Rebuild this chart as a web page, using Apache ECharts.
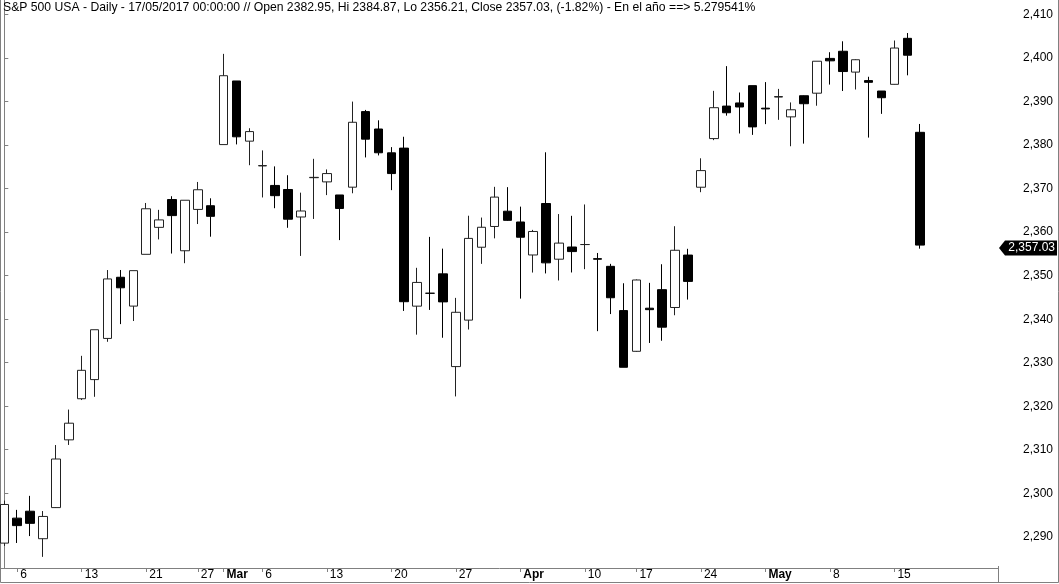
<!DOCTYPE html>
<html><head><meta charset="utf-8">
<script src="https://cdn.jsdelivr.net/npm/echarts@6/dist/echarts.min.js"></script>
<style>html,body{margin:0;padding:0;background:#fff}#c{width:1059px;height:584px}</style>
</head><body><div id="c"></div>
<script>
const dates = ['2017-02-03','2017-02-06','2017-02-07','2017-02-08','2017-02-09','2017-02-10',
'2017-02-13','2017-02-14','2017-02-15','2017-02-16','2017-02-17',
'2017-02-21','2017-02-22','2017-02-23','2017-02-24',
'2017-02-27','2017-02-28','2017-03-01','2017-03-02','2017-03-03',
'2017-03-06','2017-03-07','2017-03-08','2017-03-09','2017-03-10',
'2017-03-13','2017-03-14','2017-03-15','2017-03-16','2017-03-17',
'2017-03-20','2017-03-21','2017-03-22','2017-03-23','2017-03-24',
'2017-03-27','2017-03-28','2017-03-29','2017-03-30','2017-03-31',
'2017-04-03','2017-04-04','2017-04-05','2017-04-06','2017-04-07',
'2017-04-10','2017-04-11','2017-04-12','2017-04-13',
'2017-04-17','2017-04-18','2017-04-19','2017-04-20','2017-04-21',
'2017-04-24','2017-04-25','2017-04-26','2017-04-27','2017-04-28',
'2017-05-01','2017-05-02','2017-05-03','2017-05-04','2017-05-05',
'2017-05-08','2017-05-09','2017-05-10','2017-05-11','2017-05-12',
'2017-05-15','2017-05-16','2017-05-17'];
const open = [2288.54,2294.28,2295.87,2289.55,2296.70,2312.27,
2321.72,2326.12,2335.58,2349.64,2343.01,
2354.91,2361.11,2367.50,2355.73,
2365.23,2366.08,2380.13,2394.75,2380.92,
2375.23,2370.74,2369.81,2363.49,2372.52,
2371.56,2368.55,2370.34,2387.71,2383.71,
2378.24,2379.32,2343.00,2345.97,2350.42,
2329.11,2339.79,2356.54,2361.31,2364.82,
2362.34,2354.76,2366.59,2353.79,2356.59,
2357.16,2353.92,2352.15,2341.98,
2332.62,2342.53,2346.79,2342.69,2354.74,
2370.33,2381.51,2388.98,2389.70,2393.68,
2388.50,2391.05,2386.50,2391.36,2391.94,
2399.94,2401.58,2396.79,2394.84,2392.44,
2393.98,2404.55,2382.95];
const high = [2298.31,2296.18,2299.40,2295.91,2311.08,2319.23,
2331.58,2337.58,2351.30,2351.31,2351.16,
2366.71,2365.13,2368.26,2367.34,
2371.54,2367.79,2400.98,2394.75,2383.89,
2378.80,2375.12,2373.09,2369.08,2376.86,
2374.42,2368.55,2390.01,2388.10,2385.71,
2379.55,2381.93,2351.81,2358.92,2356.22,
2344.90,2363.78,2363.36,2370.42,2370.35,
2365.87,2360.53,2378.36,2364.16,2363.76,
2366.37,2355.22,2352.72,2348.26,
2349.14,2348.35,2352.63,2361.37,2356.18,
2376.98,2392.48,2398.16,2392.10,2393.68,
2394.49,2392.93,2389.82,2391.43,2399.29,
2401.36,2403.87,2399.74,2395.72,2392.44,
2404.05,2405.77,2384.87];
const low = [2287.88,2288.57,2290.16,2285.38,2296.61,2311.10,
2321.42,2322.17,2334.81,2338.87,2339.58,
2354.91,2358.34,2355.09,2352.87,
2361.87,2358.96,2380.13,2380.17,2375.39,
2367.98,2365.51,2361.01,2354.54,2363.04,
2368.52,2358.18,2368.94,2377.18,2377.64,
2369.66,2341.90,2336.45,2342.13,2335.74,
2322.25,2337.63,2352.72,2358.58,2362.60,
2344.73,2350.72,2350.52,2348.90,2350.74,
2351.50,2337.25,2341.18,2328.95,
2332.51,2334.54,2335.05,2340.91,2344.51,
2369.19,2381.15,2386.78,2382.68,2382.36,
2384.83,2385.82,2379.75,2380.35,2389.06,
2393.92,2392.44,2392.79,2381.74,2387.19,
2393.94,2396.05,2356.21];
const close = [2297.42,2292.56,2293.08,2294.67,2307.87,2316.10,
2328.25,2337.58,2349.25,2347.22,2351.16,
2365.38,2362.82,2363.81,2367.34,
2369.75,2363.64,2395.96,2381.92,2383.12,
2375.31,2368.39,2362.98,2364.87,2372.60,
2373.47,2365.45,2385.26,2381.38,2378.25,
2373.47,2344.02,2348.45,2345.96,2343.98,
2341.59,2358.57,2361.13,2368.06,2362.72,
2358.84,2360.16,2352.95,2357.49,2355.54,
2357.16,2353.78,2344.93,2328.95,
2349.01,2342.19,2338.17,2355.84,2348.69,
2374.15,2388.61,2387.45,2388.77,2384.20,
2388.33,2391.17,2388.13,2389.52,2399.29,
2399.38,2396.92,2399.63,2394.44,2390.90,
2402.32,2400.67,2357.03];
const tickDates = ['2017-02-06','2017-02-13','2017-02-21','2017-02-27','2017-03-01','2017-03-06','2017-03-13','2017-03-20','2017-03-27','2017-04-03','2017-04-10','2017-04-17','2017-04-24','2017-05-01','2017-05-08','2017-05-15'];
const tickLabels = ['6','13','21','27','Mar','6','13','20','27','Apr','10','17','24','May','8','15'];
const monthLabels = ['Mar','Apr','May'];
const yTicks = [2290,2300,2310,2320,2330,2340,2350,2360,2370,2380,2390,2400,2410];
const titleText = 'S&P 500 USA - Daily - 17/05/2017 00:00:00 // Open 2382.95, Hi 2384.87, Lo 2356.21, Close 2357.03, (-1.82%) - En el año ==> 5.279541%';

const F = '"Liberation Sans", Arial, sans-serif';
const ohlc = dates.map((d, i) => [i, open[i], close[i], low[i], high[i]]);
const tickIdx = tickDates.map(d => dates.indexOf(d));
const labelOf = {};
tickIdx.forEach((ix, k) => { labelOf[ix] = tickLabels[k]; });

const chart = echarts.init(document.getElementById('c'), null, {renderer: 'canvas'});
chart.setOption({
  animation: false,
  backgroundColor: '#fff',
  title: {text: titleText, left: 3, top: 2, padding: 0,
    textStyle: {fontFamily: F, fontSize: 12.2, fontWeight: 'normal', color: '#000'}},
  grid: {left: 1, right: 61, top: 0, bottom: 16, outerBoundsMode: 'none'},
  xAxis: {
    type: 'value', min: -0.256, max: 77.03,
    splitLine: {show: false},
    axisLine: {lineStyle: {color: '#808080', width: 1}},
    axisTick: {customValues: tickIdx, length: 4, lineStyle: {color: '#808080'}},
    axisLabel: {
      customValues: tickIdx, align: 'left', margin: 1, padding: [0, 0, 0, 3],
      fontFamily: F, fontSize: 12, color: '#000',
      formatter: v => { const t = labelOf[Math.round(v)] || ''; return monthLabels.includes(t) ? '{b|' + t + '}' : t; },
      rich: {b: {fontFamily: F, fontSize: 12, fontWeight: 'bold', color: '#000'}}
    }
  },
  yAxis: {
    type: 'value', position: 'right', min: 2282.82, max: 2413.36, scale: true,
    splitLine: {show: false},
    axisLine: {show: true, lineStyle: {color: '#808080', width: 1}},
    axisTick: {show: true, customValues: yTicks, length: 4, lineStyle: {color: '#808080'}},
    axisLabel: {customValues: yTicks, align: 'right', margin: 55, fontFamily: F, fontSize: 12, color: '#000',
      formatter: v => v.toLocaleString('en-US')}
  },
  series: [{
    type: 'candlestick', data: ohlc, encode: {x: 0, y: [1, 2, 3, 4]},
    barWidth: 9, clip: true,
    itemStyle: {color: '#fff', color0: '#000', borderColor: '#222', borderColor0: '#000', borderWidth: 1}
  }]
});

const last = close.length - 1;
const yc = chart.convertToPixel({yAxisIndex: 0}, close[last]) + 3;
chart.setOption({
  graphic: [
    {type: 'polyline', silent: true, shape: {points: [[0.5, 0], [0.5, 582.5], [1058.5, 582.5], [1058.5, 0]]}, style: {stroke: '#808080', lineWidth: 1, fill: null}},
    {type: 'line', silent: true, shape: {x1: 998.5, y1: 566, x2: 998.5, y2: 583}, style: {stroke: '#808080', lineWidth: 1}},
    {type: 'polygon', silent: true, shape: {points: [[999, yc], [1005, yc - 7.5], [1057, yc - 7.5], [1057, yc + 7.5], [1005, yc + 7.5]]}, style: {fill: '#000'}},
    {type: 'text', silent: true, style: {text: close[last].toLocaleString('en-US', {minimumFractionDigits: 2}), x: 1055, y: yc, align: 'right', verticalAlign: 'middle', fill: '#fff', font: '12px "Liberation Sans", Arial, sans-serif'}}
  ]
});
</script></body></html>
